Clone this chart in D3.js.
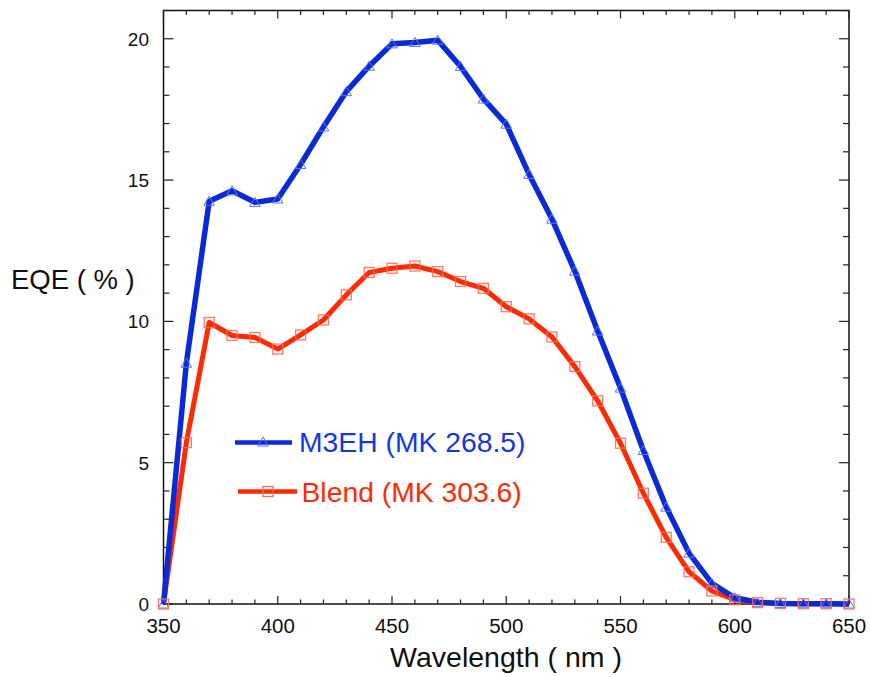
<!DOCTYPE html>
<html>
<head>
<meta charset="utf-8">
<script src="https://cdn.jsdelivr.net/npm/d3@7.9.0/dist/d3.min.js"></script>
<style>
  body { margin: 0; background: #fff; }
  svg text { font-family: "Liberation Sans", Arial, Helvetica, sans-serif; }
</style>
</head>
<body>
<svg id="chart" width="870" height="677"></svg>
<script>
const wavelength = [350, 360, 370, 380, 390, 400, 410, 420, 430, 440, 450, 460, 470, 480, 490, 500,
  510, 520, 530, 540, 550, 560, 570, 580, 590, 600, 610, 620, 630, 640, 650];
const m3eh = [0, 8.52, 14.25, 14.62, 14.21, 14.33, 15.55, 16.88, 18.13, 19.03, 19.82, 19.87, 19.95, 19.02, 17.87, 16.98,
  15.2, 13.62, 11.78, 9.66, 7.64, 5.43, 3.43, 1.8, 0.73, 0.22, 0.06, 0.02, 0.01, 0.01, 0];
const blend = [0, 5.71, 9.96, 9.5, 9.43, 9.02, 9.52, 10.05, 10.94, 11.73, 11.88, 11.96, 11.76, 11.41, 11.17, 10.52,
  10.09, 9.45, 8.4, 7.19, 5.69, 3.92, 2.36, 1.14, 0.46, 0.15, 0.05, 0.02, 0.01, 0.01, 0];
const xTicks = [350, 400, 450, 500, 550, 600, 650];
const yTicks = [0, 5, 10, 15, 20];
const seriesNames = ["M3EH (MK 268.5)", "Blend (MK 303.6)"];

const svg = d3.select("#chart");
const pLeft = 163.5, pRight = 849, pTop = 10.5, pBottom = 604;
const x = d3.scaleLinear().domain([350, 650]).range([pLeft, pRight]);
const y = d3.scaleLinear().domain([0, 21]).range([pBottom, pTop]);

const blue = "#0a2ad8", red = "#ff2a00";

// frame
svg.append("rect")
  .attr("x", pLeft).attr("y", pTop)
  .attr("width", pRight - pLeft).attr("height", pBottom - pTop)
  .attr("fill", "none").attr("stroke", "#111").attr("stroke-width", 1.5);

const minorX = d3.range(350, 651, 10);
const minorY = d3.range(0, 22, 1);

// ticks on all four sides, pointing in
const tg = svg.append("g").attr("stroke", "#222").attr("stroke-width", 1.2);
minorX.forEach(v => {
  const len = v % 50 === 0 ? 8 : 4.5;
  tg.append("line").attr("x1", x(v)).attr("x2", x(v)).attr("y1", pBottom).attr("y2", pBottom - len);
  tg.append("line").attr("x1", x(v)).attr("x2", x(v)).attr("y1", pTop).attr("y2", pTop + len);
});
minorY.forEach(v => {
  const len = v % 5 === 0 ? 10 : 6;
  tg.append("line").attr("x1", pLeft).attr("x2", pLeft + len).attr("y1", y(v)).attr("y2", y(v));
  tg.append("line").attr("x1", pRight).attr("x2", pRight - len).attr("y1", y(v)).attr("y2", y(v));
});

// tick labels
svg.append("g").selectAll("text").data(xTicks).join("text")
  .attr("x", d => x(d)).attr("y", 633)
  .attr("text-anchor", "middle").attr("font-size", 20.5).attr("fill", "#111")
  .text(d => d);
svg.append("g").selectAll("text").data(yTicks).join("text")
  .attr("x", 149).attr("y", d => y(d) + 7)
  .attr("text-anchor", "end").attr("font-size", 19).attr("fill", "#111")
  .text(d => d);

// axis titles
svg.append("text").attr("x", 506).attr("y", 667).attr("text-anchor", "middle")
  .attr("font-size", 28.5).attr("fill", "#111").text("Wavelength ( nm )");
svg.append("text").attr("x", 11).attr("y", 288.5)
  .attr("font-size", 27.5).attr("fill", "#111").text("EQE ( % )");

// lines
const line = vals => d3.line().x((d, i) => x(wavelength[i])).y(d => y(d))(vals);
svg.append("path").attr("d", line(blend)).attr("fill", "none")
  .attr("stroke", red).attr("stroke-width", 5).attr("stroke-linejoin", "round");
svg.append("path").attr("d", line(m3eh)).attr("fill", "none")
  .attr("stroke", blue).attr("stroke-width", 5.5).attr("stroke-linejoin", "round");

// markers
const tri = d3.symbol().type(d3.symbolTriangle).size(48);
svg.append("g").selectAll("path").data(m3eh).join("path")
  .attr("d", tri)
  .attr("transform", (d, i) => `translate(${x(wavelength[i])},${y(d) + 1})`)
  .attr("fill", "none").attr("stroke", "#5a72ee").attr("stroke-width", 1);
svg.append("g").selectAll("rect").data(blend).join("rect")
  .attr("x", (d, i) => x(wavelength[i]) - 5).attr("y", d => y(d) - 5)
  .attr("width", 10).attr("height", 10)
  .attr("fill", "none").attr("stroke", "#ff6a55").attr("stroke-width", 1.3).attr("stroke-opacity", 0.9);

// legend
const lg = svg.append("g");
lg.append("line").attr("x1", 235).attr("x2", 292).attr("y1", 442.5).attr("y2", 442.5)
  .attr("stroke", blue).attr("stroke-width", 4.5);
lg.append("path").attr("d", tri).attr("transform", "translate(263,443)")
  .attr("fill", "none").attr("stroke", "#5a72ee").attr("stroke-width", 1);
lg.append("text").attr("x", 299).attr("y", 451.5).attr("font-size", 28.3).attr("fill", "#1438dd")
  .text(seriesNames[0]);
lg.append("line").attr("x1", 238).attr("x2", 297).attr("y1", 491.5).attr("y2", 491.5)
  .attr("stroke", red).attr("stroke-width", 4.5);
lg.append("rect").attr("x", 263).attr("y", 486.5).attr("width", 10).attr("height", 10)
  .attr("fill", "none").attr("stroke", "#ff6a55").attr("stroke-width", 1.3);
lg.append("text").attr("x", 301.5).attr("y", 501.5).attr("font-size", 28.3).attr("fill", "#ff2a00")
  .text(seriesNames[1]);
</script>
</body>
</html>
